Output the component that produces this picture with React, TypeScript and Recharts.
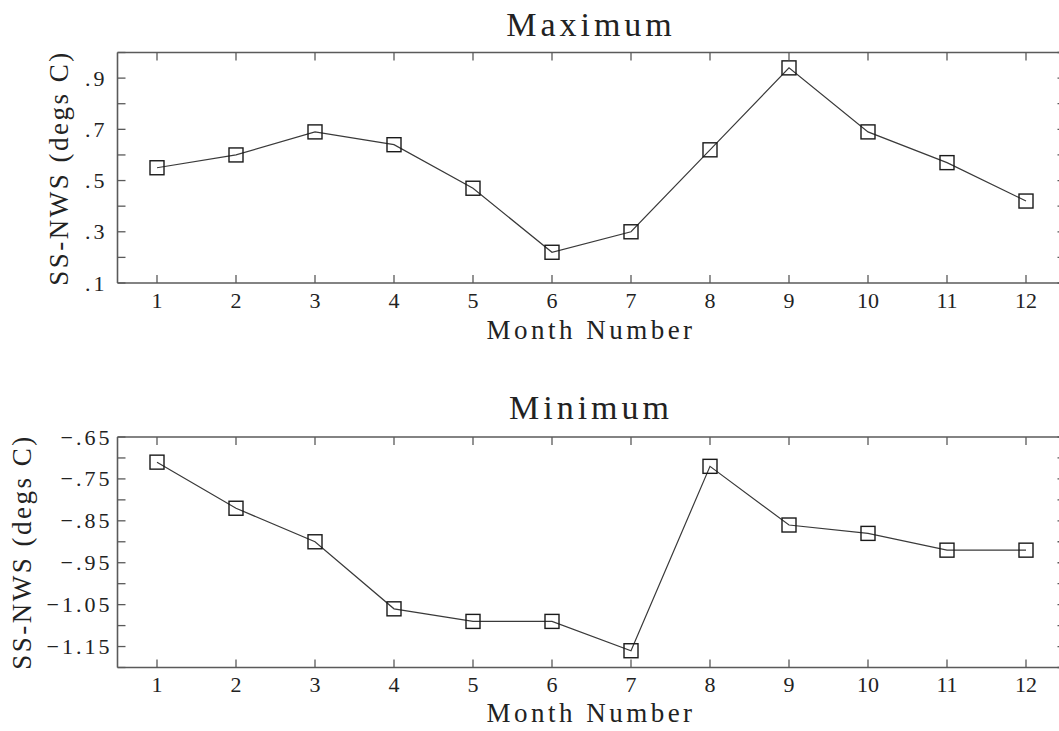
import React from "react";
import { LineChart, Line, XAxis, YAxis } from "recharts";

// Monthly SS-NWS differences (degs C)
const months = [1, 2, 3, 4, 5, 6, 7, 8, 9, 10, 11, 12];
const maxValues = [0.55, 0.6, 0.69, 0.64, 0.47, 0.22, 0.3, 0.62, 0.94, 0.69, 0.57, 0.42];
const minValues = [-0.71, -0.82, -0.9, -1.06, -1.09, -1.09, -1.16, -0.72, -0.86, -0.88, -0.92, -0.92];

const maxYTicks = [0.1, 0.2, 0.3, 0.4, 0.5, 0.6, 0.7, 0.8, 0.9, 1.0];
const maxYLabels = [0.1, 0.3, 0.5, 0.7, 0.9];
const minYTicks = [-1.2, -1.15, -1.1, -1.05, -1.0, -0.95, -0.9, -0.85, -0.8, -0.75, -0.7, -0.65];
const minYLabels = [-1.15, -1.05, -0.95, -0.85, -0.75, -0.65];

const FONT = "Liberation Serif";
const AXIS = "#5a5a5a";
const INK = "#222";
const TICK_LEN = 8;
const CHART_W = 1080;

function fmt(v: number, digits: number) {
  const s = Math.abs(v).toFixed(digits).replace(/^0/, "");
  return (v < 0 ? "\u2212" : "") + s;
}

function SquareDot(props: any) {
  const { cx, cy } = props;
  if (cx == null || cy == null) return null;
  return (
    <rect x={cx - 7} y={cy - 7} width={14} height={14} fill="none" stroke="#1a1a1a" strokeWidth={1.4} />
  );
}

type PanelProps = {
  values: number[];
  yTicks: number[];
  yLabels: number[];
  domain: [number, number];
  digits: number;
  title: string;
  height: number;
  margin: { top: number; right: number; left: number; bottom: number };
  titleY: number;
  xTitleY: number;
  yTitleX: number;
  yTitleY: number;
  labelGap: number;
};

function Panel(p: PanelProps) {
  const data = months.map((m, i) => ({ month: m, value: p.values[i] }));
  const isLabeled = (v: number) => p.yLabels.some((l) => Math.abs(l - v) < 1e-6);
  const textStyle = { fontFamily: FONT };
  // edges of the plot frame (axes take 1px each)
  const left = p.margin.left + 1;
  const right = CHART_W - p.margin.right - 1;
  const top = p.margin.top + 1;
  const bottom = p.height - p.margin.bottom - 1;

  return (
    <LineChart width={CHART_W} height={p.height} data={data} margin={p.margin}>
      <XAxis
        xAxisId="bottom"
        dataKey="month"
        type="number"
        domain={[0.5, 12.5]}
        ticks={months}
        interval={0}
        height={1}
        tickSize={0}
        tickMargin={0}
        tickLine={false}
        axisLine={{ stroke: AXIS, strokeWidth: 1.6 }}
        tick={(t: any) => (
          <g key={`b${t.index}`}>
            <line x1={t.x} y1={bottom} x2={t.x} y2={bottom - TICK_LEN} stroke={AXIS} strokeWidth={1.3} />
            <text x={t.x} y={bottom + 24.5} textAnchor="middle" style={textStyle} fontSize={22} fill={INK}>
              {t.payload.value}
            </text>
          </g>
        )}
      />
      <XAxis
        xAxisId="top"
        orientation="top"
        dataKey="month"
        type="number"
        domain={[0.5, 12.5]}
        ticks={months}
        interval={0}
        height={1}
        tickSize={0}
        tickMargin={0}
        tickLine={false}
        axisLine={{ stroke: AXIS, strokeWidth: 1.6 }}
        tick={(t: any) => (
          <line key={`t${t.index}`} x1={t.x} y1={top} x2={t.x} y2={top + TICK_LEN} stroke={AXIS} strokeWidth={1.3} />
        )}
      />
      <YAxis
        yAxisId="left"
        type="number"
        domain={p.domain}
        ticks={p.yTicks}
        interval={0}
        width={1}
        tickSize={0}
        tickMargin={0}
        tickLine={false}
        allowDataOverflow
        axisLine={{ stroke: AXIS, strokeWidth: 1.6 }}
        tick={(t: any) => (
          <g key={`l${t.index}`}>
            <line x1={left} y1={t.y} x2={left + TICK_LEN} y2={t.y} stroke={AXIS} strokeWidth={1.3} />
            {isLabeled(t.payload.value) && (
              <text
                x={left - p.labelGap}
                y={t.y}
                textAnchor="end"
                dominantBaseline="central"
                style={textStyle}
                fontSize={22}
                letterSpacing={3}
                fill={INK}
              >
                {fmt(t.payload.value, p.digits)}
              </text>
            )}
          </g>
        )}
      />
      <YAxis
        yAxisId="right"
        orientation="right"
        type="number"
        domain={p.domain}
        ticks={p.yTicks}
        interval={0}
        width={1}
        tickSize={0}
        tickMargin={0}
        tickLine={false}
        allowDataOverflow
        axisLine={{ stroke: AXIS, strokeWidth: 1.6 }}
        tick={(t: any) => (
          <line key={`r${t.index}`} x1={right} y1={t.y} x2={right - TICK_LEN} y2={t.y} stroke={AXIS} strokeWidth={1.3} />
        )}
      />
      <Line
        xAxisId="top"
        yAxisId="right"
        dataKey="value"
        stroke="none"
        dot={false}
        activeDot={false}
        isAnimationActive={false}
      />
      <Line
        xAxisId="bottom"
        yAxisId="left"
        type="linear"
        dataKey="value"
        stroke="#3a3a3a"
        strokeWidth={1.2}
        dot={(d: any) => <SquareDot key={`d${d.index}`} {...d} />}
        activeDot={false}
        isAnimationActive={false}
      />
      <text x={591} y={p.titleY} textAnchor="middle" style={textStyle} fontSize={34} letterSpacing={4} fill={INK}>
        {p.title}
      </text>
      <text x={591} y={p.xTitleY} textAnchor="middle" style={textStyle} fontSize={27} letterSpacing={3.5} fill={INK}>
        Month Number
      </text>
      <text
        x={p.yTitleX}
        y={p.yTitleY}
        textAnchor="middle"
        style={textStyle}
        fontSize={27}
        letterSpacing={2.5}
        fill={INK}
        transform={`rotate(-90, ${p.yTitleX}, ${p.yTitleY})`}
      >
        SS-NWS (degs C)
      </text>
    </LineChart>
  );
}

export default function App() {
  return (
    <div
      style={{
        position: "absolute",
        left: 0,
        top: 0,
        width: 1059,
        height: 731,
        overflow: "hidden",
        background: "#fff",
      }}
    >
      <Panel
        values={maxValues}
        yTicks={maxYTicks}
        yLabels={maxYLabels}
        domain={[0.1, 1.0]}
        digits={1}
        title="Maximum"
        height={365}
        margin={{ top: 51.5, right: 13.5, left: 116.5, bottom: 81 }}
        titleY={36}
        xTitleY={339}
        yTitleX={68}
        yTitleY={168}
        labelGap={10}
      />
      <Panel
        values={minValues}
        yTicks={minYTicks}
        yLabels={minYLabels}
        domain={[-1.2, -0.65]}
        digits={2}
        title="Minimum"
        height={366}
        margin={{ top: 71, right: 13.5, left: 116.5, bottom: 62.5 }}
        titleY={54}
        xTitleY={356.7}
        yTitleX={31}
        yTitleY={187}
        labelGap={5}
      />
    </div>
  );
}
